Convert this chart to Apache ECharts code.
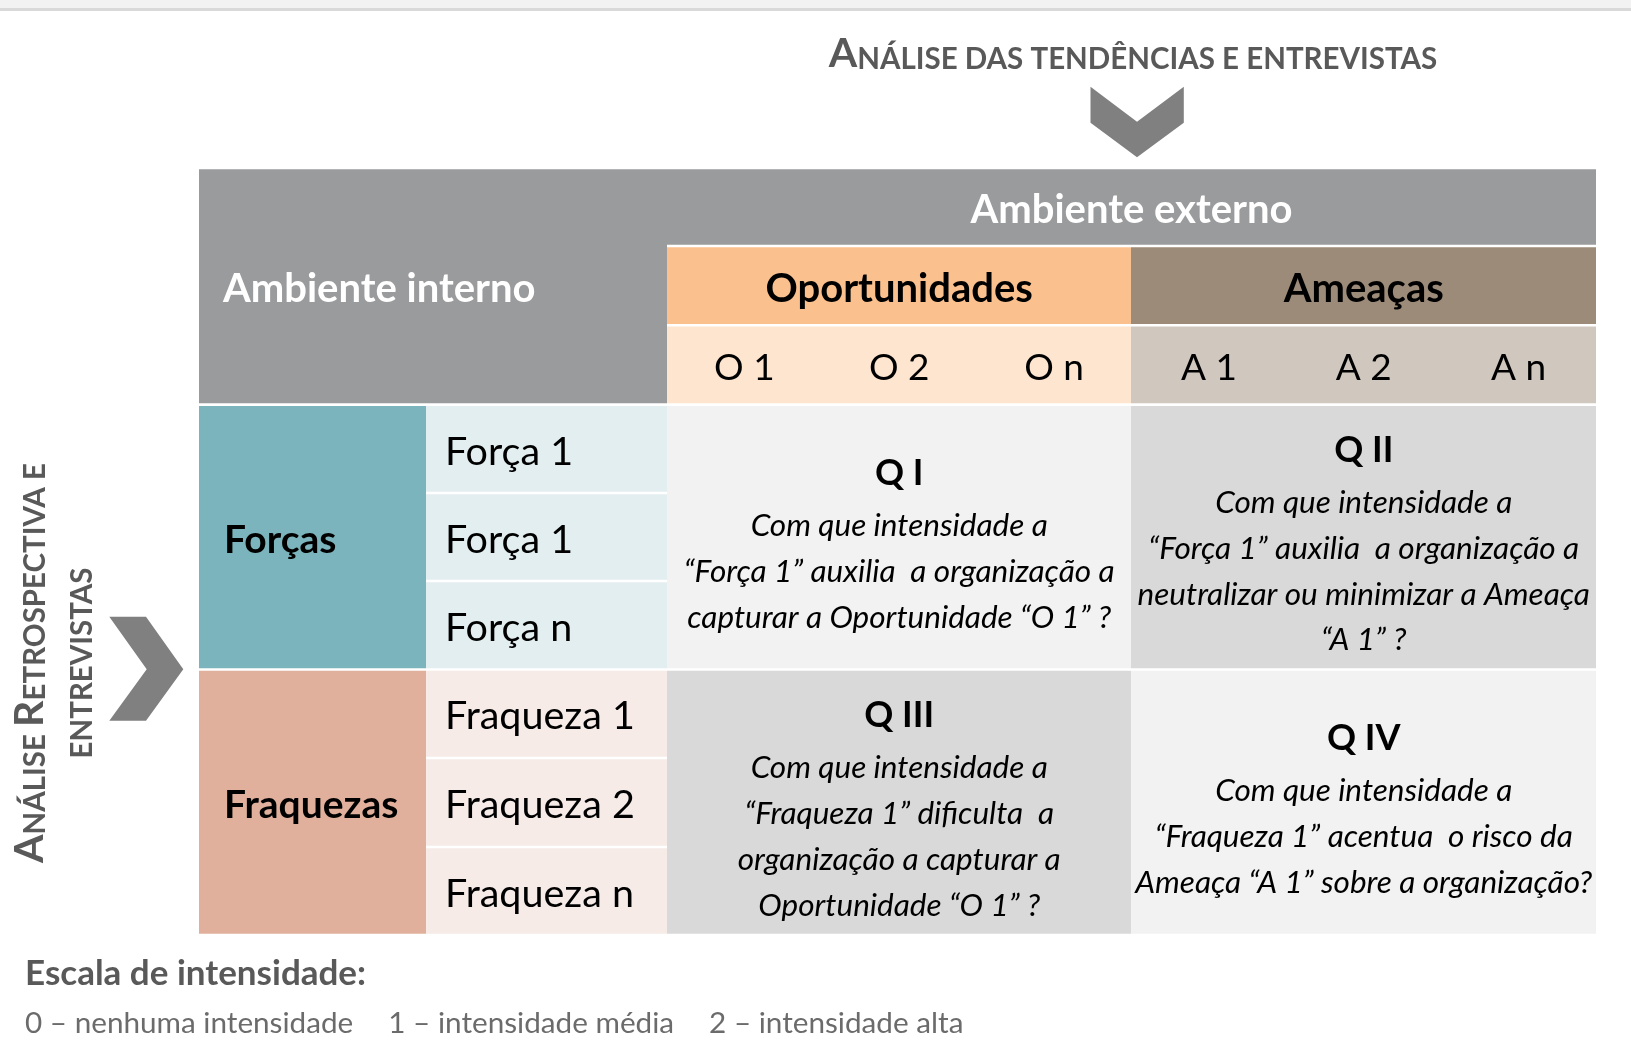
<!DOCTYPE html>
<html>
<head>
<meta charset="utf-8">
<script src="https://cdn.jsdelivr.net/npm/echarts/dist/echarts.min.js"></script>
<style>
  html, body { margin: 0; padding: 0; background: #ffffff; }
  #chart { width: 1631px; height: 1051px; }
</style>
</head>
<body>
<div id="chart"></div>
<script>
// ---------------- DATA ----------------
const headerInternal = 'Ambiente interno';
const headerExternal = 'Ambiente externo';
const opportunityGroup = 'Oportunidades';
const threatGroup = 'Ameaças';
const opportunities = ['O 1', 'O 2', 'O n'];
const threats = ['A 1', 'A 2', 'A n'];
const strengthGroup = 'Forças';
const weaknessGroup = 'Fraquezas';
const strengths = ['Força 1', 'Força 1', 'Força n'];
const weaknesses = ['Fraqueza 1', 'Fraqueza 2', 'Fraqueza n'];
const quadrantNames = ['Q I', 'Q II', 'Q III', 'Q IV'];
const quadrantQuestions = [
  ['Com que intensidade a', '“Força 1” auxilia  a organização a', 'capturar a Oportunidade “O 1” ?'],
  ['Com que intensidade a', '“Força 1” auxilia  a organização a', 'neutralizar ou minimizar a Ameaça', '“A 1” ?'],
  ['Com que intensidade a', '“Fraqueza 1” dificulta  a', 'organização a capturar a', 'Oportunidade “O 1” ?'],
  ['Com que intensidade a', '“Fraqueza 1” acentua  o risco da', 'Ameaça “A 1” sobre a organização?']
];
const topTitle = ['A', 'NÁLISE DAS TENDÊNCIAS E ENTREVISTAS'];
const sideTitleLine1 = ['A', 'NÁLISE ', 'R', 'ETROSPECTIVA E'];
const sideTitleLine2 = 'ENTREVISTAS';
const scaleTitle = 'Escala de intensidade:';
const scaleItems = ['0 – nenhuma intensidade', '1 – intensidade média', '2 – intensidade alta'];

// ---------------- LAYOUT / STYLE ----------------
const FONT = 'Lato';
const colWeights = [1.466, 1.556, 1, 1, 1, 1, 1, 1];
const rowWeights = [78, 79.3, 79.3, 88.4, 88, 88.5, 88.5, 89, 88];
const colEdges = [0]; colWeights.forEach(w => colEdges.push(colEdges[colEdges.length - 1] + w));
const rowEdges = [0]; rowWeights.forEach(w => rowEdges.push(rowEdges[rowEdges.length - 1] + w));

const kinds = {
  internal:  { fill: '#9a9b9d', color: '#ffffff', font: 'bold 40px ' + FONT, align: 'left', pad: 24 },
  external:  { fill: '#9a9b9d', color: '#ffffff', font: 'bold 40px ' + FONT, align: 'center' },
  oppGroup:  { fill: '#fac08e', color: '#000000', font: 'bold 40px ' + FONT, align: 'center' },
  thrGroup:  { fill: '#9d8b79', color: '#000000', font: 'bold 40px ' + FONT, align: 'center' },
  opp:       { fill: '#fde5d0', color: '#000000', font: '37px ' + FONT, align: 'center' },
  thr:       { fill: '#d0c7be', color: '#000000', font: '37px ' + FONT, align: 'center' },
  strGroup:  { fill: '#7bb4bc', color: '#000000', font: 'bold 39px ' + FONT, align: 'left', pad: 25 },
  weakGroup: { fill: '#e0b09c', color: '#000000', font: 'bold 39px ' + FONT, align: 'left', pad: 25 },
  str:       { fill: '#e3eef0', color: '#000000', font: '39.5px ' + FONT, align: 'left', pad: 19 },
  weak:      { fill: '#f6ebe7', color: '#000000', font: '39.5px ' + FONT, align: 'left', pad: 19 },
  qLight:    { fill: '#f2f2f2', color: '#000000', align: 'center', quad: true },
  qDark:     { fill: '#d9d9d9', color: '#000000', align: 'center', quad: true }
};

const cells = [];
function addCell(c0, r0, c1, r1, kind, text, lines) {
  cells.push({ value: [colEdges[c0], rowEdges[r0], colEdges[c1], rowEdges[r1]], kind: kind, text: text, lines: lines });
}
addCell(0, 0, 2, 3, 'internal', headerInternal);
addCell(2, 0, 8, 1, 'external', headerExternal);
addCell(2, 1, 5, 2, 'oppGroup', opportunityGroup);
addCell(5, 1, 8, 2, 'thrGroup', threatGroup);
opportunities.forEach((t, i) => addCell(2 + i, 2, 3 + i, 3, 'opp', t));
threats.forEach((t, i) => addCell(5 + i, 2, 6 + i, 3, 'thr', t));
addCell(0, 3, 1, 6, 'strGroup', strengthGroup);
addCell(0, 6, 1, 9, 'weakGroup', weaknessGroup);
strengths.forEach((t, i) => addCell(1, 3 + i, 2, 4 + i, 'str', t));
weaknesses.forEach((t, i) => addCell(1, 6 + i, 2, 7 + i, 'weak', t));
addCell(2, 3, 5, 6, 'qLight', quadrantNames[0], quadrantQuestions[0]);
addCell(5, 3, 8, 6, 'qDark', quadrantNames[1], quadrantQuestions[1]);
addCell(2, 6, 5, 9, 'qDark', quadrantNames[2], quadrantQuestions[2]);
addCell(5, 6, 8, 9, 'qLight', quadrantNames[3], quadrantQuestions[3]);

const INSET = 1.3;
const TEXT_SHIFT = 3;

function renderItem(params, api) {
  const cell = cells[params.dataIndex];
  const k = kinds[cell.kind];
  const p0 = api.coord([api.value(0), api.value(1)]);
  const p1 = api.coord([api.value(2), api.value(3)]);
  const x = p0[0], y = p0[1] + INSET, w = p1[0] - p0[0], h = p1[1] - p0[1] - 2 * INSET;
  // snap the horizontal edges to whole pixels so neighbouring cells join without seams
  const rx0 = Math.round(p0[0]), rx1 = Math.round(p1[0]);
  const children = [{ type: 'rect', shape: { x: rx0, y: y, width: rx1 - rx0, height: h }, style: { fill: k.fill } }];
  if (k.quad) {
    const txt = '{t|' + cell.text + '}\n' + cell.lines.map(l => '{q|' + l + '}').join('\n');
    children.push({
      type: 'text',
      style: {
        text: txt, x: x + w / 2, y: y + h / 2 + 5, align: 'center', verticalAlign: 'middle',
        fill: k.color,
        rich: {
          t: { fontFamily: FONT, fontWeight: 'bold', fontSize: 36, lineHeight: 59, fill: '#000', align: 'center' },
          q: { fontFamily: FONT, fontStyle: 'italic', fontSize: 31.5, lineHeight: 45.8, fill: '#000', align: 'center' }
        }
      }
    });
  } else {
    const tx = k.align === 'left' ? x + k.pad : x + w / 2;
    children.push({
      type: 'text',
      style: { text: cell.text, x: tx, y: y + h / 2 + TEXT_SHIFT, align: k.align, verticalAlign: 'middle', font: k.font, fill: k.color }
    });
  }
  return { type: 'group', children: children };
}

const chart = echarts.init(document.getElementById('chart'), null, { renderer: 'canvas' });
const titleRich = {
  b: { fontFamily: FONT, fontWeight: 'bold', fontSize: 41, lineHeight: 44, fill: '#595959', verticalAlign: 'bottom' },
  s: { fontFamily: FONT, fontWeight: 'bold', fontSize: 29.5, lineHeight: 44, fill: '#595959', verticalAlign: 'bottom' }
};
chart.setOption({
  backgroundColor: '#ffffff',
  animation: false,
  grid: { left: 199, top: 168, width: 1397, height: 767 },
  xAxis: { type: 'value', min: 0, max: colEdges[colEdges.length - 1], show: false },
  yAxis: { type: 'value', min: 0, max: rowEdges[rowEdges.length - 1], inverse: true, show: false },
  series: [{
    type: 'custom',
    renderItem: renderItem,
    encode: { x: [0, 2], y: [1, 3] },
    data: cells.map(c => c.value),
    silent: true
  }],
  graphic: [
    { type: 'rect', shape: { x: 0, y: 0, width: 1631, height: 8 }, style: { fill: '#f2f2f2' }, silent: true },
    { type: 'rect', shape: { x: 0, y: 8, width: 1631, height: 3 }, style: { fill: '#d9d9d9' }, silent: true },
    {
      type: 'text', x: 1133, y: 52,
      style: { text: '{b|' + topTitle[0] + '}{s|' + topTitle[1] + '}', align: 'center', verticalAlign: 'middle', rich: titleRich }
    },
    {
      type: 'polygon', silent: true,
      shape: { points: [[1090.5, 86.7], [1137, 121.7], [1183.8, 86.7], [1183.8, 122.7], [1137, 157.3], [1090.5, 122.7]] },
      style: { fill: '#808080' }
    },
    {
      type: 'text', x: 28, y: 663, rotation: Math.PI / 2,
      style: {
        text: '{b|' + sideTitleLine1[0] + '}{s|' + sideTitleLine1[1] + '}{b|' + sideTitleLine1[2] + '}{s|' + sideTitleLine1[3] + '}',
        align: 'center', verticalAlign: 'middle', rich: titleRich
      }
    },
    {
      type: 'text', x: 75, y: 663, rotation: Math.PI / 2,
      style: { text: '{s|' + sideTitleLine2 + '}', align: 'center', verticalAlign: 'middle', rich: titleRich }
    },
    {
      type: 'polygon', silent: true,
      shape: { points: [[109.3, 616.7], [146, 616.7], [183.3, 669.3], [146, 720.7], [109.3, 720.7], [146.7, 669.3]] },
      style: { fill: '#808080' }
    },
    {
      type: 'text', x: 25, y: 974,
      style: { text: scaleTitle, align: 'left', verticalAlign: 'middle', font: 'bold 35px ' + FONT, fill: '#595959' }
    },
    {
      type: 'text', x: 25, y: 1023,
      style: {
        text: scaleItems.map(s => '{i|' + s + '}').join('{g|}'),
        align: 'left', verticalAlign: 'middle',
        rich: {
          i: { fontFamily: FONT, fontSize: 29.7, fill: '#6b6b6b' },
          g: { width: 35 }
        }
      }
    }
  ]
});
</script>
</body>
</html>
